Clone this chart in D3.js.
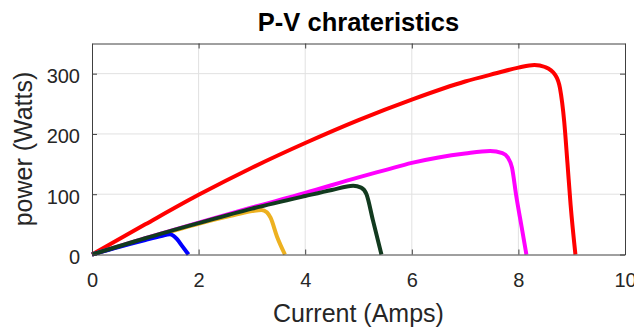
<!DOCTYPE html>
<html>
<head>
<meta charset="utf-8">
<script src="https://cdn.jsdelivr.net/npm/d3@7"></script>
<style>
  html, body { margin: 0; padding: 0; background: #fff; }
  svg { display: block; font-family: "Liberation Sans", Arial, sans-serif; }
</style>
</head>
<body>
<svg id="chart" width="634" height="327"></svg>
<script>
// ---- data ----
const chartTitle = "P-V chrateristics";
const xLabel = "Current (Amps)";
const yLabel = "power (Watts)";
const xTicks = [0, 2, 4, 6, 8, 10];
const yTicks = [0, 100, 200, 300];

const redI = [0, 1, 2, 3, 4, 5, 6, 7, 7.6, 8, 8.3, 8.5, 8.69, 8.78, 8.86, 8.92, 8.98, 9.07];
const redP = [0, 50, 99, 144, 185, 223, 257, 287, 301, 310, 314.5, 311, 298, 276, 220, 152, 82, 0];

const magentaI = [0, 1, 2, 3, 4, 5, 5.5, 6, 6.5, 7, 7.47, 7.7, 7.8, 7.88, 7.96, 8.06, 8.15];
const magentaP = [0, 27, 53, 78, 102, 128, 140, 152, 161, 167.5, 171.5, 168, 161, 144, 97, 46, 0];

const orangeI = [0, 1, 2, 2.6, 3.0, 3.18, 3.28, 3.35, 3.47, 3.62];
const orangeP = [0, 26, 51, 64, 72, 74, 70, 61, 30, 0];

const blueI = [0, 0.5, 1, 1.3, 1.46, 1.53, 1.6, 1.7, 1.81];
const blueP = [0, 12.5, 24, 30.5, 33.5, 31, 25, 13, 0];

const greenI = [0, 1, 2, 3, 4, 4.5, 4.9, 5.05, 5.15, 5.27, 5.43];
const greenP = [0, 27, 52, 76, 97, 107, 114, 111, 100, 57, 0];

const seriesNames = ["red", "magenta", "orange", "blue", "green"];
const seriesI = [redI, magentaI, orangeI, blueI, greenI];
const seriesP = [redP, magentaP, orangeP, blueP, greenP];
const seriesColors = ["#ff0000", "#ff00ff", "#edb120", "#0000ff", "#123a1f"];

// ---- layout ----
const svg = d3.select("#chart");
const mLeft = 92, mRight = 625, mTop = 43.5, mBottom = 254.5;

const x = d3.scaleLinear().domain([0, 10]).range([mLeft, mRight]);
const y = d3.scaleLinear().domain([0, 350]).range([mBottom, mTop]);

// grid
svg.append("g").selectAll("line").data(xTicks.slice(1, -1)).join("line")
  .attr("x1", d => x(d)).attr("x2", d => x(d))
  .attr("y1", mTop).attr("y2", mBottom)
  .attr("stroke", "#e1e1e1").attr("stroke-width", 1);
svg.append("g").selectAll("line").data(yTicks.slice(1)).join("line")
  .attr("x1", mLeft).attr("x2", mRight)
  .attr("y1", d => y(d)).attr("y2", d => y(d))
  .attr("stroke", "#e1e1e1").attr("stroke-width", 1);

// series
const line = d3.line().x(d => x(d[0])).y(d => y(d[1])).curve(d3.curveMonotoneX);
seriesNames.forEach((name, k) => {
  const pts = seriesI[k].map((v, i) => [v, seriesP[k][i]]);
  svg.append("path").datum(pts)
    .attr("d", line)
    .attr("fill", "none")
    .attr("stroke", seriesColors[k])
    .attr("stroke-width", 4)
    .attr("stroke-linejoin", "round")
    .attr("stroke-linecap", "butt");
});

// axes (ticks inside, box)
const axisColor = "#404040";
const tl = 5;
const xAxisB = d3.axisBottom(x).tickValues(xTicks).tickSizeInner(-tl).tickSizeOuter(0).tickPadding(18);
const gx = svg.append("g").attr("transform", `translate(0,${mBottom})`).call(xAxisB);
const xAxisT = d3.axisTop(x).tickValues(xTicks).tickSizeInner(-tl).tickSizeOuter(0).tickFormat("");
const gxt = svg.append("g").attr("transform", `translate(0,${mTop})`).call(xAxisT);
const yAxisL = d3.axisLeft(y).tickValues(yTicks).tickSizeInner(-tl).tickSizeOuter(0).tickPadding(12);
const gy = svg.append("g").attr("transform", `translate(${mLeft},0)`).call(yAxisL);
const yAxisR = d3.axisRight(y).tickValues(yTicks).tickSizeInner(-tl).tickSizeOuter(0).tickFormat("");
const gyr = svg.append("g").attr("transform", `translate(${mRight},0)`).call(yAxisR);

[gx, gxt, gy, gyr].forEach(g => {
  g.select(".domain").attr("stroke", axisColor);
  g.selectAll(".tick line").attr("stroke", axisColor);
  g.selectAll(".tick text")
    .attr("fill", "#262626")
    .style("font-family", '"Liberation Sans", Arial, sans-serif')
    .style("font-size", "20px");
});
gx.selectAll(".tick text").attr("dy", "0.71em");
gy.selectAll(".tick text").attr("dy", "0.45em");

// title & labels
svg.append("text")
  .attr("x", (mLeft + mRight) / 2).attr("y", 31)
  .attr("text-anchor", "middle")
  .attr("font-size", "25.5px").attr("font-weight", "bold")
  .attr("fill", "#000")
  .text(chartTitle);

svg.append("text")
  .attr("x", (mLeft + mRight) / 2).attr("y", 321.5)
  .attr("text-anchor", "middle")
  .attr("font-size", "25px")
  .attr("fill", "#262626")
  .text(xLabel);

svg.append("text")
  .attr("transform", `translate(32,${(mTop + mBottom) / 2}) rotate(-90)`)
  .attr("text-anchor", "middle")
  .attr("font-size", "25px")
  .attr("fill", "#262626")
  .text(yLabel);
</script>
</body>
</html>
